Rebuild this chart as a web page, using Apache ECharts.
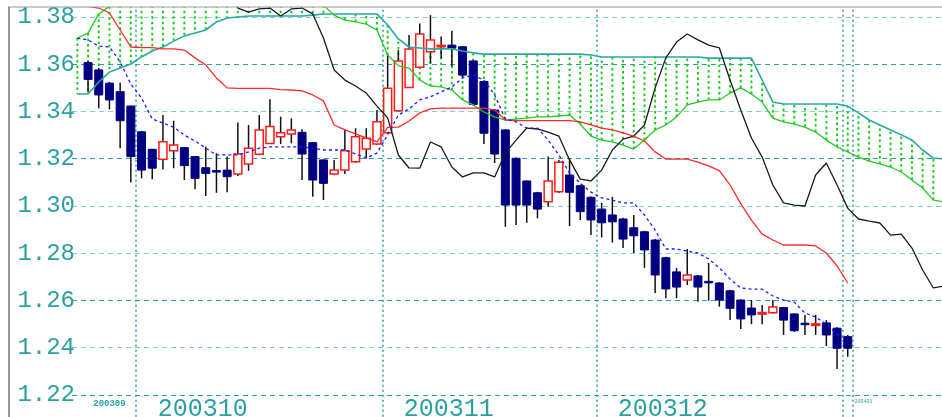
<!DOCTYPE html>
<html>
<head>
<meta charset="utf-8">
<title>Ichimoku 200309-200401</title>
<script src="https://cdn.jsdelivr.net/npm/echarts@6/dist/echarts.min.js"></script>
<style>
  html, body { margin: 0; padding: 0; background: #fff; }
  #chart { width: 942px; height: 417px; }
</style>
</head>
<body>
<div id="chart"></div>
<script>
// trading days, one slot each (first slot is the cloud's start, last 9 are ahead of price)
const dates = [
  '20030923', '20030924', '20030925', '20030926', '20030929', '20030930',
  '20031001', '20031002', '20031003', '20031006', '20031007', '20031008', '20031009', '20031010',
  '20031013', '20031014', '20031015', '20031016', '20031017', '20031020', '20031021', '20031022',
  '20031023', '20031024', '20031027', '20031028', '20031029', '20031030', '20031031',
  '20031103', '20031104', '20031105', '20031106', '20031107', '20031110', '20031111', '20031112',
  '20031113', '20031114', '20031117', '20031118', '20031119', '20031120', '20031121', '20031124',
  '20031125', '20031126', '20031127', '20031128',
  '20031201', '20031202', '20031203', '20031204', '20031205', '20031208', '20031209', '20031210',
  '20031211', '20031212', '20031215', '20031216', '20031217', '20031218', '20031219', '20031222',
  '20031223', '20031224', '20031225', '20031226', '20031229', '20031230', '20031231',
  '20040101', '20040102', '20040105', '20040106', '20040107', '20040108', '20040109', '20040112',
  '20040113', '20040114'
];

// [open, close, low, high], starting at dates[1]
const ohlc = [
  [1.3607, 1.3536, 1.3480, 1.3615], [1.3576, 1.3470, 1.3414, 1.3584], [1.3520, 1.3449, 1.3409, 1.3525],
  [1.3484, 1.3361, 1.3244, 1.3522], [1.3423, 1.3209, 1.3099, 1.3425], [1.3314, 1.3152, 1.3117, 1.3318],
  [1.3240, 1.3160, 1.3113, 1.3242], [1.3198, 1.3272, 1.3155, 1.3385], [1.3234, 1.3258, 1.3160, 1.3361],
  [1.3247, 1.3171, 1.3110, 1.3250], [1.3209, 1.3117, 1.3071, 1.3212], [1.3162, 1.3138, 1.3042, 1.3251],
  [1.3150, 1.3148, 1.3056, 1.3223], [1.3152, 1.3124, 1.3058, 1.3209], [1.3135, 1.3220, 1.3127, 1.3353],
  [1.3178, 1.3244, 1.3149, 1.3343], [1.3219, 1.3322, 1.3215, 1.3385], [1.3265, 1.3336, 1.3262, 1.3452],
  [1.3293, 1.3310, 1.3262, 1.3378], [1.3305, 1.3322, 1.3265, 1.3371], [1.3312, 1.3220, 1.3110, 1.3325],
  [1.3268, 1.3110, 1.3039, 1.3270], [1.3195, 1.3096, 1.3025, 1.3198], [1.3135, 1.3152, 1.3130, 1.3195],
  [1.3152, 1.3234, 1.3135, 1.3325], [1.3187, 1.3293, 1.3183, 1.3329], [1.3241, 1.3287, 1.3202, 1.3329],
  [1.3262, 1.3357, 1.3258, 1.3406], [1.3310, 1.3498, 1.3305, 1.3639], [1.3403, 1.3614, 1.3400, 1.3660],
  [1.3502, 1.3665, 1.3500, 1.3724], [1.3587, 1.3728, 1.3583, 1.3773], [1.3653, 1.3703, 1.3604, 1.3808],
  [1.3678, 1.3680, 1.3625, 1.3717], [1.3681, 1.3668, 1.3590, 1.3742], [1.3674, 1.3554, 1.3546, 1.3676],
  [1.3614, 1.3430, 1.3425, 1.3616], [1.3527, 1.3308, 1.3262, 1.3530], [1.3406, 1.3220, 1.3182, 1.3410],
  [1.3322, 1.3004, 1.2912, 1.3325], [1.3202, 1.3004, 1.2920, 1.3205], [1.3106, 1.3004, 1.2929, 1.3108],
  [1.3056, 1.2987, 1.2948, 1.3060], [1.3018, 1.3106, 1.2997, 1.3209], [1.3060, 1.3185, 1.3055, 1.3195],
  [1.3131, 1.3058, 1.2915, 1.3202], [1.3086, 1.2976, 1.2941, 1.3090], [1.3037, 1.2941, 1.2877, 1.3040],
  [1.2987, 1.2929, 1.2867, 1.3013], [1.2962, 1.2933, 1.2845, 1.3039], [1.2945, 1.2860, 1.2822, 1.2950],
  [1.2908, 1.2874, 1.2801, 1.2962], [1.2891, 1.2814, 1.2738, 1.2895], [1.2856, 1.2708, 1.2632, 1.2860],
  [1.2781, 1.2649, 1.2610, 1.2785], [1.2721, 1.2657, 1.2610, 1.2738], [1.2687, 1.2708, 1.2666, 1.2818],
  [1.2704, 1.2657, 1.2595, 1.2708], [1.2681, 1.2679, 1.2599, 1.2759], [1.2674, 1.2602, 1.2574, 1.2678],
  [1.2641, 1.2567, 1.2517, 1.2645], [1.2602, 1.2522, 1.2479, 1.2605], [1.2568, 1.2539, 1.2500, 1.2602],
  [1.2547, 1.2549, 1.2500, 1.2581], [1.2548, 1.2572, 1.2545, 1.2602], [1.2570, 1.2517, 1.2454, 1.2573],
  [1.2543, 1.2472, 1.2468, 1.2546], [1.2504, 1.2502, 1.2454, 1.2539], [1.2499, 1.2501, 1.2454, 1.2539],
  [1.2505, 1.2454, 1.2407, 1.2517], [1.2483, 1.2398, 1.2310, 1.2487], [1.2447, 1.2398, 1.2362, 1.2454]
];

// conversion line (blue dashed)
const tenkan = [
  1.3711, 1.3703, 1.3677, 1.3673, 1.3610, 1.3516, 1.3457, 1.3368, 1.3351, 1.3334,
  1.3300, 1.3275, 1.3245, 1.3216, 1.3216, 1.3216, 1.3229, 1.3245, 1.3250, 1.3250,
  1.3250, 1.3250, 1.3245, 1.3237, 1.3237, 1.3237, 1.3220, 1.3203, 1.3224, 1.3301,
  1.3385, 1.3411, 1.3449, 1.3462, 1.3483, 1.3504, 1.3542, 1.3554, 1.3533, 1.3470,
  1.3368, 1.3356, 1.3330, 1.3330, 1.3279, 1.3216, 1.3140, 1.3097, 1.3059, 1.3034,
  1.3025, 1.3013, 1.3013, 1.2962, 1.2898, 1.2818, 1.2818, 1.2809, 1.2801, 1.2776,
  1.2738, 1.2691, 1.2653, 1.2648, 1.2648, 1.2619, 1.2602, 1.2593, 1.2547, 1.2530,
  1.2500, 1.2458, 1.2433
];

// base line (red)
const kijun = [
  1.3920, 1.3845, 1.3838, 1.3817, 1.3745, 1.3673, 1.3671, 1.3670, 1.3665, 1.3665,
  1.3660, 1.3627, 1.3597, 1.3542, 1.3500, 1.3498, 1.3498, 1.3498, 1.3498, 1.3493,
  1.3491, 1.3487, 1.3470, 1.3445, 1.3343, 1.3322, 1.3305, 1.3288, 1.3271, 1.3333,
  1.3334, 1.3360, 1.3394, 1.3411, 1.3414, 1.3414, 1.3414, 1.3414, 1.3414, 1.3406,
  1.3364, 1.3361, 1.3361, 1.3361, 1.3361, 1.3361, 1.3361, 1.3356, 1.3343, 1.3330,
  1.3322, 1.3309, 1.3296, 1.3275, 1.3229, 1.3199, 1.3198, 1.3198, 1.3186, 1.3170,
  1.3150, 1.3089, 1.3010, 1.2940, 1.2881, 1.2856, 1.2835, 1.2835, 1.2835, 1.2831,
  1.2801, 1.2746, 1.2674
];

// lagging line (black)
const chikou = [
  1.3920, 1.3920, 1.3920, 1.3920, 1.3920, 1.3920, 1.3920, 1.3920, 1.3920, 1.3920,
  1.3920, 1.3920, 1.3920, 1.3920, 1.3920, 1.3838, 1.3821, 1.3834, 1.3838, 1.3804,
  1.3834, 1.3838, 1.3813, 1.3711, 1.3576, 1.3533, 1.3508, 1.3478, 1.3423, 1.3373,
  1.3216, 1.3161, 1.3160, 1.3271, 1.3250, 1.3165, 1.3123, 1.3140, 1.3140, 1.3123,
  1.3224, 1.3279, 1.3330, 1.3326, 1.3313, 1.3296, 1.3195, 1.3114, 1.3106, 1.3152,
  1.3237, 1.3283, 1.3296, 1.3343, 1.3500, 1.3627, 1.3694, 1.3728, 1.3703, 1.3681,
  1.3669, 1.3533, 1.3406, 1.3288, 1.3207, 1.3089, 1.3013, 1.3004, 1.3000, 1.3131,
  1.3182, 1.3089, 1.2991, 1.2945, 1.2936, 1.2928, 1.2877, 1.2881, 1.2822, 1.2729,
  1.2653, 1.2661
];

// leading span A (green) and span B (teal)
const spanA = [
  1.3711, 1.3732, 1.3813, 1.3845, 1.3920, 1.3920, 1.3920, 1.3920, 1.3920, 1.3920,
  1.3920, 1.3920, 1.3920, 1.3920, 1.3920, 1.3920, 1.3920, 1.3920, 1.3920, 1.3920,
  1.3920, 1.3920, 1.3920, 1.3850, 1.3808, 1.3787, 1.3779, 1.3770, 1.3745, 1.3639,
  1.3593, 1.3584, 1.3533, 1.3508, 1.3504, 1.3491, 1.3449, 1.3428, 1.3398, 1.3377,
  1.3364, 1.3368, 1.3372, 1.3377, 1.3377, 1.3381, 1.3385, 1.3347, 1.3296, 1.3279,
  1.3271, 1.3258, 1.3241, 1.3279, 1.3322, 1.3343, 1.3377, 1.3428, 1.3440, 1.3449,
  1.3449, 1.3478, 1.3500, 1.3474, 1.3440, 1.3372, 1.3356, 1.3347, 1.3334, 1.3313,
  1.3279, 1.3250, 1.3229, 1.3207, 1.3190, 1.3178, 1.3165, 1.3144, 1.3110, 1.3076,
  1.3025, 1.3017
];

const spanB = [
  1.3474, 1.3474, 1.3525, 1.3567, 1.3584, 1.3601, 1.3631, 1.3656, 1.3673, 1.3698,
  1.3720, 1.3732, 1.3745, 1.3779, 1.3796, 1.3800, 1.3804, 1.3804, 1.3804, 1.3804,
  1.3804, 1.3804, 1.3808, 1.3813, 1.3813, 1.3813, 1.3813, 1.3813, 1.3813, 1.3766,
  1.3707, 1.3673, 1.3669, 1.3665, 1.3665, 1.3665, 1.3656, 1.3648, 1.3643, 1.3643,
  1.3643, 1.3643, 1.3643, 1.3643, 1.3643, 1.3643, 1.3643, 1.3643, 1.3639, 1.3631,
  1.3631, 1.3631, 1.3631, 1.3631, 1.3631, 1.3631, 1.3631, 1.3631, 1.3631, 1.3626,
  1.3626, 1.3626, 1.3626, 1.3626, 1.3533, 1.3440, 1.3432, 1.3432, 1.3432, 1.3432,
  1.3432, 1.3432, 1.3423, 1.3394, 1.3364, 1.3343, 1.3322, 1.3301, 1.3279, 1.3237,
  1.3203, 1.3199
];

const monthLabelAt = [3, 12, 35, 55, 73];
const dividerAt = [6, 29, 49, 72, 73];

const teal = '#2aa0a0';

function renderCandle(params, api) {
  const i = api.value(0);
  const o = api.value(1), c = api.value(2);
  const top = api.coord([i, Math.max(o, c)]);
  const bot = api.coord([i, Math.min(o, c)]);
  const lo = api.coord([i, api.value(3)]);
  const hi = api.coord([i, api.value(4)]);
  const w = 8;
  const up = c > o;
  const h = Math.max(bot[1] - top[1], 1.5);
  return {
    type: 'group',
    children: [
      {
        type: 'line',
        shape: { x1: hi[0], y1: hi[1], x2: lo[0], y2: lo[1] },
        style: { stroke: '#111', lineWidth: 1.5 }
      },
      {
        type: 'rect',
        shape: { x: top[0] - w / 2, y: top[1], width: w, height: h },
        style: up ? { fill: '#fff', stroke: '#ff1a1a', lineWidth: 1.5 }
                  : { fill: '#000080', stroke: '#000080', lineWidth: 1 }
      }
    ]
  };
}

function renderHatch(params, api) {
  const i = api.value(0);
  const a = api.coord([i, api.value(1)]);
  const b = api.coord([i, api.value(2)]);
  return {
    type: 'line',
    shape: { x1: a[0], y1: a[1], x2: b[0], y2: b[1] },
    style: { stroke: '#14cc14', lineWidth: 1.9, lineDash: [2.5, 3] }
  };
}

const chart = echarts.init(document.getElementById('chart'));
chart.setOption({
  animation: false,
  backgroundColor: '#fff',
  grid: {
    left: 72,
    right: -7.4,
    top: -30.25,
    bottom: -25.25,
    containLabel: false,
    outerBoundsMode: 'none'
  },
  xAxis: {
    type: 'category',
    data: dates,
    boundaryGap: true,
    axisLine: { show: false },
    axisTick: { show: false },
    axisLabel: {
      inside: true,
      interval: 0,
      margin: 20,
      formatter: function (value, index) {
        if (!monthLabelAt.includes(index)) return '';
        const m = value.slice(0, 6);
        if (index === monthLabelAt[0]) return '{s|' + m + '}';
        if (index === monthLabelAt[monthLabelAt.length - 1]) return '{t|' + m + '}';
        return '{b|' + m + '}';
      },
      rich: {
        b: { fontFamily: 'Liberation Mono', fontSize: 25, color: teal, padding: [0, 6, 0, 0] },
        s: { fontFamily: 'Liberation Mono', fontSize: 9, fontWeight: 'bold', color: teal, padding: [0, 0, 14, 0] },
        t: { fontFamily: 'Liberation Mono', fontSize: 5, color: teal, padding: [0, 0, 18, 10] }
      }
    },
    splitLine: {
      show: true,
      interval: function (index) { return dividerAt.includes(index); },
      lineStyle: { color: teal, width: 1.5, type: [2, 3] }
    }
  },
  yAxis: {
    type: 'value',
    min: 1.20,
    max: 1.40,
    interval: 0.02,
    axisLine: { show: false },
    axisTick: { show: false },
    axisLabel: {
      margin: -3,
      formatter: function (v) { return v.toFixed(2); },
      fontFamily: 'Liberation Mono',
      fontSize: 24,
      color: teal
    },
    splitLine: {
      lineStyle: {
        color: ['#7fcfcf', '#2aa0a0', '#7fcfcf', '#2aa0a0', '#7fcfcf', '#7fcfcf',
                '#2aa0a0', '#7fcfcf', '#2aa0a0', '#7fcfcf', '#7fcfcf'],
        type: [5, 4],
        width: 1.2
      }
    }
  },
  graphic: [
    { type: 'rect', shape: { x: 0, y: 0, width: 942, height: 7 }, style: { fill: '#fff' }, z: 100 },
    { type: 'line', shape: { x1: 8, y1: 7, x2: 942, y2: 7 }, style: { stroke: '#999', lineWidth: 1 }, z: 101 },
    { type: 'line', shape: { x1: 9, y1: 7, x2: 9, y2: 417 }, style: { stroke: '#777', lineWidth: 1.5 }, z: 101 }
  ],
  series: [
    {
      name: 'cloud',
      type: 'custom',
      renderItem: renderHatch,
      encode: { x: 0, y: [1, 2] },
      data: spanA.map((a, i) => [i, a, spanB[i]])
    },
    {
      name: 'spanB',
      type: 'line',
      data: spanB,
      symbol: 'none',
      lineStyle: { color: '#2aa8a8', width: 1.6 }
    },
    {
      name: 'spanA',
      type: 'line',
      data: spanA,
      symbol: 'none',
      lineStyle: { color: '#22cc22', width: 1.3 }
    },
    {
      name: 'chikou',
      type: 'line',
      data: chikou,
      symbol: 'none',
      lineStyle: { color: '#1a1a1a', width: 1.3 }
    },
    {
      name: 'kijun',
      type: 'line',
      data: kijun,
      symbol: 'none',
      lineStyle: { color: '#ff2a2a', width: 1.3 }
    },
    {
      name: 'tenkan',
      type: 'line',
      data: tenkan,
      symbol: 'none',
      lineStyle: { color: '#1a1aff', width: 1.3, type: [3, 3] }
    },
    {
      name: 'price',
      type: 'custom',
      renderItem: renderCandle,
      encode: { x: 0, y: [1, 2, 3, 4] },
      data: ohlc.map((d, i) => [i + 1, d[0], d[1], d[2], d[3]])
    }
  ]
});
</script>
</body>
</html>
